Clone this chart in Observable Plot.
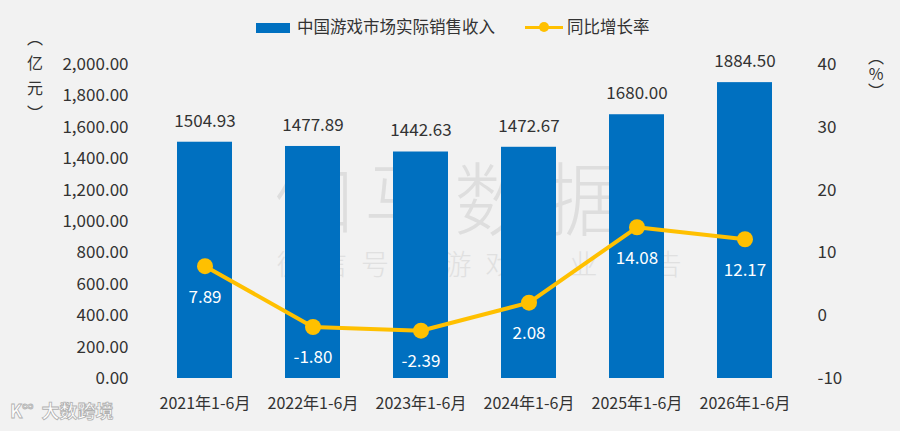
<!DOCTYPE html>
<html>
<head>
<meta charset="utf-8">
<script src="https://cdn.jsdelivr.net/npm/d3@7"></script>
<script src="https://cdn.jsdelivr.net/npm/@observablehq/plot@0.6"></script>
<style>
  html, body { margin: 0; padding: 0; background: #f2f2f2; }
  body { font-family: "Noto Sans CJK SC", "Noto Sans", sans-serif; color: #333; }
  #wrap { position: relative; width: 900px; height: 431px; overflow: hidden; background: #f2f2f2; }
  .abs { position: absolute; white-space: nowrap; }
  #chart { position: absolute; left: 0; top: 0; }
  .wm1 { left: 274px; top: 154px; font-size: 80px; letter-spacing: 10px; color: #dedede; font-weight: 300; line-height: 1; }
  .wm2 { left: 277px; top: 249px; font-size: 28px; letter-spacing: 14px; color: #e0e0e0; font-weight: 300; line-height: 1; }
  .unit { text-align: center; font-size: 16px; color: #333; }
  .legtxt { font-size: 16.5px; color: #333; line-height: 1; }
</style>
</head>
<body>
<div id="wrap">
  <div class="abs wm1">伽马数据</div>
  <div class="abs wm2">微信号&nbsp;&nbsp;游戏产业报告</div>
  <div id="chart"></div>
  <!-- legend -->
  <div class="abs" style="left:256px;top:23px;width:34px;height:10px;background:#0070c0;"></div>
  <div class="abs legtxt" style="left:297px;top:18px;">中国游戏市场实际销售收入</div>
  <div class="abs" style="left:525px;top:25.5px;width:38px;height:3px;background:#ffc000;"></div>
  <div class="abs" style="left:539px;top:22px;width:10px;height:10px;border-radius:50%;background:#ffc000;"></div>
  <div class="abs legtxt" style="left:567px;top:18px;">同比增长率</div>
  <!-- axis units -->
  <div class="abs unit" style="left:26px;top:25px;width:18px;line-height:25px;">︵<br>亿<br>元<br>︶</div>
  <div class="abs unit" style="left:866px;top:48px;width:20px;line-height:17px;">︵<br>%<br>︶</div>
  <!-- logo watermark -->
  <div class="abs" style="left:10px;top:401px;font-size:18px;font-weight:700;color:#fff;-webkit-text-stroke:0.8px #b0b0b0;line-height:1;">K<span style="font-size:11px;vertical-align:top;">∞</span>&nbsp;&nbsp;大数跨境</div>
</div>
<script>
const periods = ["2021年1-6月", "2022年1-6月", "2023年1-6月", "2024年1-6月", "2025年1-6月", "2026年1-6月"];
const revenue = [1504.93, 1477.89, 1442.63, 1472.67, 1680.00, 1884.50];
const growth = [7.89, -1.80, -2.39, 2.08, 14.08, 12.17];
const leftTicks = [0, 200, 400, 600, 800, 1000, 1200, 1400, 1600, 1800, 2000];
const rightTicks = [-10, 0, 10, 20, 30, 40];

// right axis -10..40 maps onto left axis 0..2000
const toLeft = r => (r + 10) * 40;

const data = periods.map((p, i) => ({ period: p, revenue: revenue[i], growth: growth[i], gy: toLeft(growth[i]) }));

const chart = Plot.plot({
  width: 900,
  height: 431,
  marginTop: 64,
  marginBottom: 53,
  marginLeft: 150,
  marginRight: 101,
  style: { background: "transparent", fontSize: "16px", fontFamily: "'Noto Sans CJK SC', 'Noto Sans', sans-serif", color: "#333" },
  x: { domain: periods, paddingInner: 0.49, paddingOuter: 0.245 },
  y: { domain: [0, 2000] },
  marks: [
    Plot.barY(data, { x: "period", y: "revenue", fill: "#0070c0" }),
    Plot.text(data, { x: "period", y: "revenue", text: d => d.revenue.toFixed(2), dy: -21, fill: "#333", fontSize: 17 }),
    Plot.line(data, { x: "period", y: "gy", stroke: "#ffc000", strokeWidth: 4 }),
    Plot.dot(data, { x: "period", y: "gy", r: 8, fill: "#ffc000" }),
    Plot.text(data, { x: "period", y: "gy", text: d => d.growth.toFixed(2), dy: 31, fill: "#fff", fontSize: 17 }),
    Plot.axisY({ anchor: "left", ticks: leftTicks, tickFormat: d3.format(",.2f"), tickSize: 0, tickPadding: 22, label: null, fontSize: 17 }),
    Plot.axisY({ anchor: "right", ticks: rightTicks.map(toLeft), tickFormat: (d, i) => String(rightTicks[i]), tickSize: 0, tickPadding: 18, label: null, fontSize: 17 }),
    Plot.axisX({ anchor: "bottom", tickSize: 0, tickPadding: 19, label: null, fontSize: 16 })
  ]
});
document.getElementById("chart").appendChild(chart);
</script>
</body>
</html>
